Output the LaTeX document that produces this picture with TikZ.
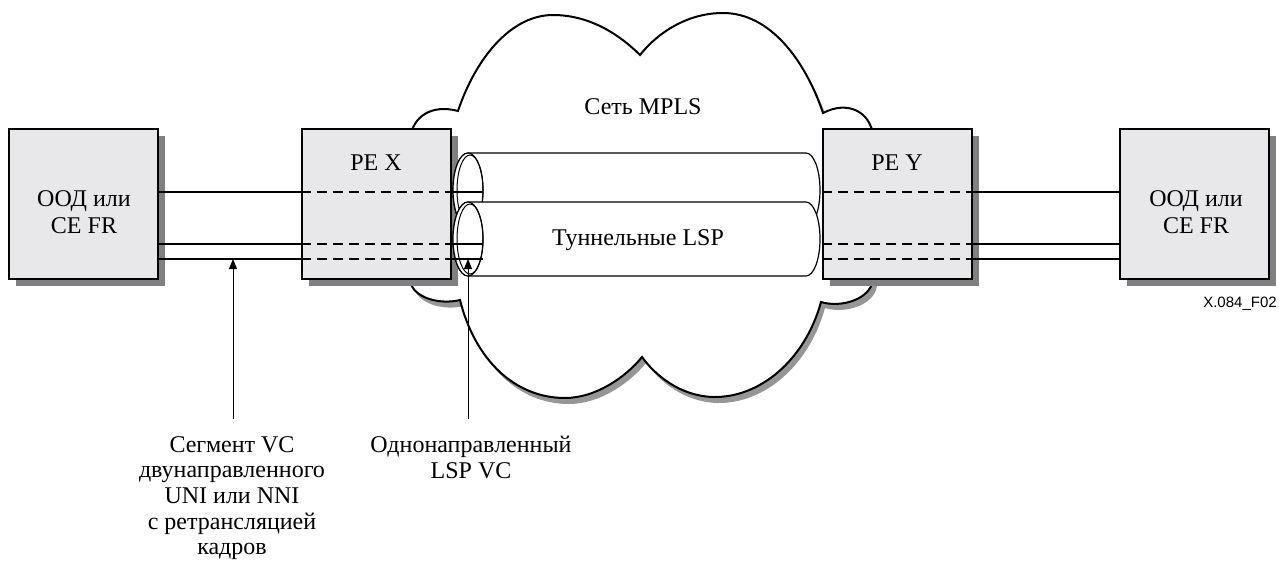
\documentclass[tikz,border=0pt]{standalone}
\usepackage{fontspec}
\setmainfont{Liberation Serif}
\newfontfamily\figsans{Liberation Sans}
\usepackage{tikz}
\usetikzlibrary{positioning}
\usetikzlibrary{arrows.meta}
\usetikzlibrary{shadows}
\definecolor{boxgray}{RGB}{232,232,234}
\definecolor{shadegray}{RGB}{128,128,128}
\definecolor{cloudshade}{RGB}{150,150,150}
\newcommand{\mplscloud}{ % outline of the MPLS cloud, hidden parts run behind the PE boxes
    (410,140) .. controls (412,116) and (432,104) .. (458,111)
    .. controls (475,60) and (510,15) .. (553,15)
    .. controls (590,15) and (620,35) .. (640,55)
    .. controls (660,30) and (690,13) .. (723,13)
    .. controls (770,13) and (805,60) .. (823,113)
    .. controls (848,100) and (870,112) .. (873,135)
    -- (873,280)
    .. controls (870,300) and (840,308) .. (821,302)
    .. controls (805,360) and (760,398) .. (713,397)
    .. controls (680,396) and (655,375) .. (642,357)
    .. controls (625,378) and (595,398) .. (565,398)
    .. controls (515,398) and (475,360) .. (460,300)
    .. controls (440,305) and (412,298) .. (410,280) -- cycle
}

\begin{document}
\begin{tikzpicture}[x=0.5pt, y=-0.5pt,
    font=\fontsize{12}{13.3}\selectfont,
    box/.style={draw, line width=1pt, fill=boxgray, minimum width=74.5pt, minimum height=75pt,
        inner sep=0pt,
        drop shadow={shadow xshift=3.5pt, shadow yshift=-3.5pt, fill=shadegray, opacity=1}},
    vc/.style={line width=1.4pt},
    vcdash/.style={line width=1.4pt, dash pattern=on 5pt off 3pt},
    tube/.style={draw, line width=0.6pt, fill=white},
    pointer/.style={line width=0.5pt, -{Triangle[length=5pt,width=4pt]}},
    note/.style={align=center, inner sep=0pt}]
        \useasboundingbox (0,0) rectangle (1279,562);

        % Cloud
        \fill[cloudshade, shift={(4,6)}] \mplscloud;
        \draw[line width=1pt, fill=white] \mplscloud;
        \node (net) at (643,107) {Сеть MPLS};

        % Boxes
        \node[box] (dte1) at (83.5,204) {};
        \node[box] (pex) at (376,204) {};
        \node[box] (pey) at (897,204) {};
        \node[box] (dte2) at (1194.5,204) {};
        \node[note] (dte1txt) at (84,212) {ООД или\\CE FR};
        \node[note] (dte2txt) at (1196,212) {ООД или\\CE FR};
        \node[below=13pt of pex.north, inner sep=0pt] (pextxt) {PE X};
        \node[below=13pt of pey.north, inner sep=0pt] (peytxt) {PE Y};

        % Tunnel LSPs
        \draw[tube] (468,153) -- (806,153) arc[start angle=90, end angle=-90, x radius=7pt, y radius=18.5pt]
            -- (468,227) arc[start angle=270, end angle=90, x radius=7.5pt, y radius=18.5pt] -- cycle;
        \draw[tube] (468,190) ellipse[x radius=7.5pt, y radius=18.5pt];
        \draw[line width=0.5pt] (470,190) ellipse[x radius=6.5pt, y radius=17.5pt];
        \draw[tube] (468,202) -- (806,202) arc[start angle=90, end angle=-90, x radius=7pt, y radius=18.5pt]
            -- (468,276) arc[start angle=270, end angle=90, x radius=7.5pt, y radius=18.5pt] -- cycle;
        \draw[tube] (468,239) ellipse[x radius=7.5pt, y radius=18.5pt];
        \draw[line width=0.5pt] (470,239) ellipse[x radius=6.5pt, y radius=17.5pt];
        \node (lsp) at (638,240) {Туннельные LSP};

        % VC segments
        \coordinate (l1) at (0,192);
        \coordinate (l2) at (0,244);
        \coordinate (l3) at (0,259);
        \coordinate (lspx) at (483,0);
        \foreach \l in {l1, l2, l3} {
            \draw[vc] (dte1.east |- \l) -- (pex.west |- \l);
            \draw[vcdash] (pex.west |- \l) -- (pex.east |- \l);
            \draw[vc] (pex.east |- \l) -- (lspx |- \l);
            \draw[vcdash] (pey.west |- \l) -- (pey.east |- \l);
            \draw[vc] (pey.east |- \l) -- (dte2.west |- \l);
        }

        % Pointers
        \node[note, anchor=north, font=\fontsize{12}{12.8}\selectfont] (seglbl) at (232,436) {Сегмент VC\\двунаправленного\\UNI или NNI\\с ретрансляцией\\кадров};
        \node[note, anchor=north, font=\fontsize{12}{12.8}\selectfont] (lsplbl) at (471,436) {Однонаправленный\\LSP VC};
        \coordinate (segfoot) at (233,419);
        \coordinate (lspfoot) at (468,419);
        \draw[pointer] (segfoot) -- (segfoot |- l3);
        \draw[pointer] (lspfoot) -- (lspfoot |- l3);

        \node[font=\figsans\fontsize{7.5}{9}\selectfont] (figid) at (1240,304) {X.084\_F02};
    \end{tikzpicture}
\end{document}
